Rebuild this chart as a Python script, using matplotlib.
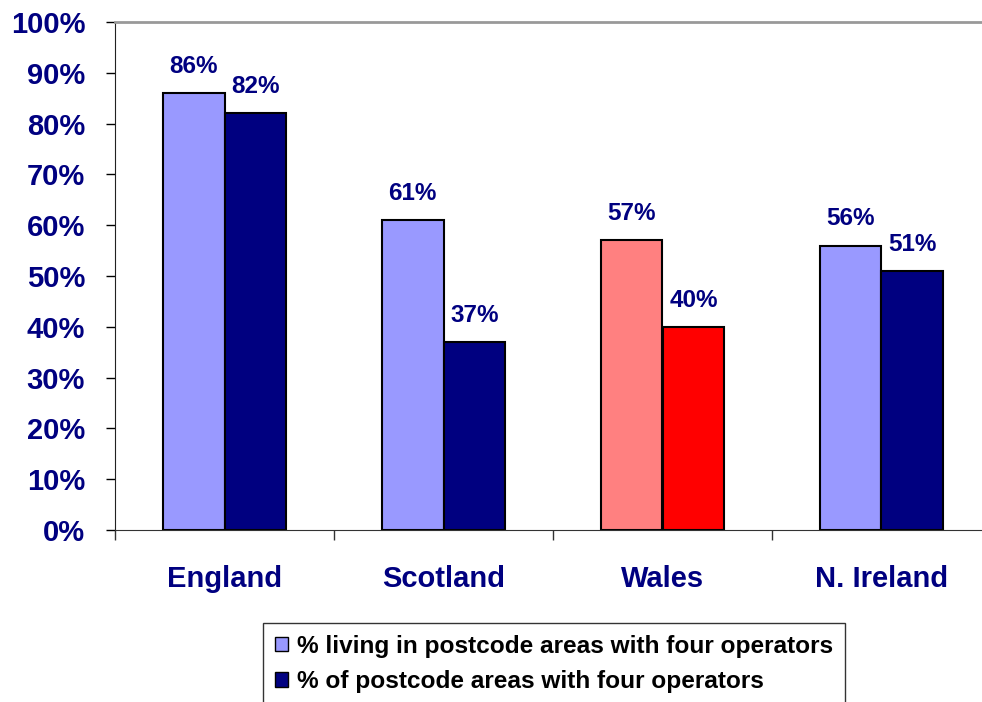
import numpy as np
import matplotlib
matplotlib.use("Agg")
import matplotlib.pyplot as plt
from matplotlib.patches import Patch

plt.rcParams['font.family'] = ['Liberation Sans', 'DejaVu Sans']

# data
nations = ['England', 'Scotland', 'Wales', 'N. Ireland']
living_pct = [86, 61, 57, 56]
areas_pct = [82, 37, 40, 51]
series_names = ['% living in postcode areas with four operators',
                '% of postcode areas with four operators']
yticks = [0, 10, 20, 30, 40, 50, 60, 70, 80, 90, 100]
yticklabels = ['0%', '10%', '20%', '30%', '40%', '50%', '60%', '70%', '80%', '90%', '100%']

navy = '#000080'
light_cols = ['#9999FF', '#9999FF', '#FF8080', '#9999FF']
dark_cols = ['#000080', '#000080', '#FF0000', '#000080']

fig = plt.figure(figsize=(9.82, 7.02), dpi=100)
ax = fig.add_axes([115/982, 1 - 530/702, 4*219/982, 508/702])

x = np.arange(len(nations))
w = 0.283
b1 = ax.bar(x - w/2, living_pct, w, color=light_cols, edgecolor='black', linewidth=1.5)
b2 = ax.bar(x + w/2, areas_pct, w, color=dark_cols, edgecolor='black', linewidth=1.5)

for bars, vals in ((b1, living_pct), (b2, areas_pct)):
    for r, v in zip(bars, vals):
        ax.annotate('%d%%' % v, (r.get_x() + r.get_width()/2, v),
                    xytext=(0, 11), textcoords='offset points',
                    ha='center', va='bottom', fontsize=17.5, fontweight='bold', color=navy)

ax.set_xlim(-0.5, 3.5)
ax.set_ylim(0, 100)

ax.set_yticks(yticks)
ax.set_yticklabels(yticklabels, fontsize=21, fontweight='bold', color=navy)
ax.tick_params(axis='y', direction='out', length=6.5, width=1, pad=15, colors='black', labelcolor=navy)

# category labels on major ticks, divider ticks on minor
ax.set_xticks(x)
ax.set_xticklabels(nations, fontsize=21, fontweight='bold', color=navy)
ax.tick_params(axis='x', which='major', length=0, pad=25)
ax.set_xticks(np.arange(-0.5, 4.0, 1.0), minor=True)
ax.tick_params(axis='x', which='minor', direction='out', length=7, width=1, colors='#333333')

ax.spines['top'].set_color('#999999')
ax.spines['top'].set_linewidth(2)
ax.spines['left'].set_color('#222222')
ax.spines['bottom'].set_color('#333333')
ax.spines['right'].set_visible(False)

handles = [Patch(facecolor='#9999FF', edgecolor='black'),
           Patch(facecolor='#000080', edgecolor='black')]
leg = fig.legend(handles, series_names, loc='upper left',
                 bbox_to_anchor=(263/982, 1 - 623/702), frameon=True, fancybox=False,
                 prop={'weight': 'bold', 'size': 17.6}, handlelength=0.55, handleheight=0.55,
                 handletextpad=0.36, labelspacing=0.5, borderpad=0.48, borderaxespad=0)
leg.get_frame().set_edgecolor('black')
leg.get_frame().set_linewidth(1)

fig.savefig('out.png', dpi=100)
